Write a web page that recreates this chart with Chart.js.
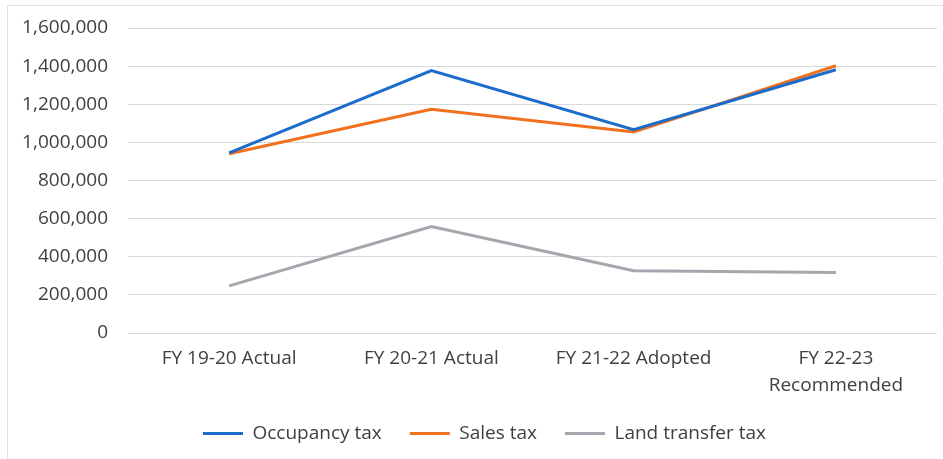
<!DOCTYPE html>
<html>
<head>
<meta charset="utf-8">
<script src="https://cdn.jsdelivr.net/npm/chart.js@4/dist/chart.umd.min.js"></script>
<style>
  html, body { margin: 0; padding: 0; background: #fff; }
  #wrap { width: 943px; height: 459px; }
</style>
</head>
<body>
<div id="wrap"><canvas id="chart" width="943" height="459"></canvas></div>
<script>
const years = ['FY 19-20 Actual', 'FY 20-21 Actual', 'FY 21-22 Adopted', ['FY 22-23', 'Recommended']];
const occupancy = [945000, 1377000, 1066000, 1381000];
const sales = [940000, 1174000, 1054000, 1402000];
const landTransfer = [247000, 558000, 327000, 317000];

const textColor = '#404040';
const fontFamily = '"Open Sans", "Noto Sans", sans-serif';

// faint frame like the scanned chart border, and nudge legend right a bit
const framePlugin = {
  id: 'frame',
  afterLayout(chart) {
    chart.legend.left += 16;
    chart.legend.right += 16;
  },
  beforeDraw(chart) {
    const ctx = chart.ctx;
    ctx.save();
    ctx.strokeStyle = '#e0e0e0';
    ctx.lineWidth = 1;
    ctx.beginPath();
    ctx.moveTo(7.5, 459);
    ctx.lineTo(7.5, 5.5);
    ctx.lineTo(943, 5.5);
    ctx.stroke();
    ctx.restore();
  }
};

const ctx = document.getElementById('chart').getContext('2d');
new Chart(ctx, {
  type: 'line',
  data: {
    labels: years,
    datasets: [
      { label: 'Occupancy tax', data: occupancy, borderColor: '#1c6ccc', backgroundColor: '#1c6ccc', borderWidth: 3 },
      { label: 'Sales tax', data: sales, borderColor: '#f0701e', backgroundColor: '#f0701e', borderWidth: 3 },
      { label: 'Land transfer tax', data: landTransfer, borderColor: '#a6a6ae', backgroundColor: '#a6a6ae', borderWidth: 3 }
    ]
  },
  options: {
    responsive: false,
    animation: false,
    elements: {
      line: { borderWidth: 3, tension: 0 },
      point: { radius: 0 }
    },
    layout: { padding: { top: 28, right: 6, left: 0, bottom: 6 } },
    scales: {
      x: {
        offset: true,
        afterFit(scale) { scale.height = 63; },
        grid: { display: false, drawTicks: false },
        border: { display: false },
        ticks: { color: textColor, font: { family: fontFamily, size: 19, lineHeight: 1.42 }, padding: 12, maxRotation: 0, autoSkip: false }
      },
      y: {
        min: 0,
        max: 1600000,
        afterFit(scale) {
          scale.width = 128;
          scale.paddingTop = 0;
          scale.paddingBottom = 0;
        },
        grid: { color: '#d9d9d9', drawTicks: false },
        border: { display: false },
        ticks: {
          stepSize: 200000,
          color: textColor,
          padding: 20,
          font: { family: fontFamily, size: 19 },
          callback: (v) => v.toLocaleString('en-US')
        }
      }
    },
    plugins: {
      legend: {
        position: 'bottom',
        labels: {
          color: textColor,
          font: { family: fontFamily, size: 19 },
          usePointStyle: true,
          pointStyle: 'line',
          pointStyleWidth: 40,
          boxWidth: 36,
          padding: 28
        }
      },
      tooltip: { enabled: false }
    }
  },
  plugins: [framePlugin]
});
</script>
</body>
</html>
